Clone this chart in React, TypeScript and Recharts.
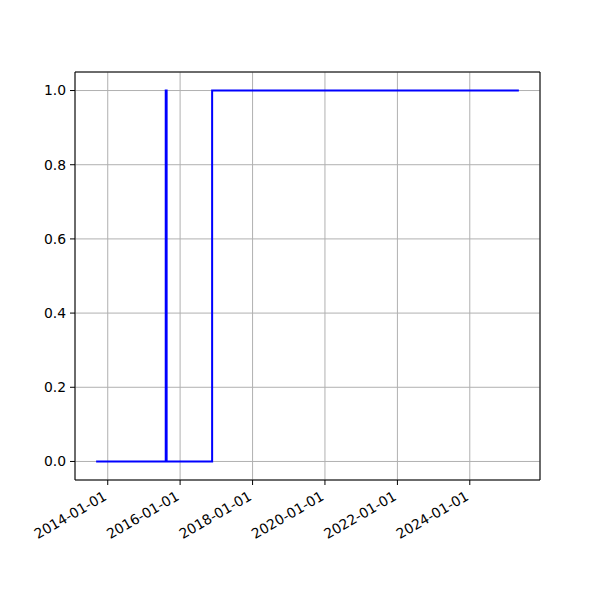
import React from "react";
import { LineChart, Line, XAxis, YAxis, CartesianGrid, ReferenceArea } from "recharts";

const dates = ["2013-09-06", "2015-08-09", "2015-08-18", "2016-11-19", "2025-05-10"];
const values = [0, 1, 0, 1, 1];
const xTickDates = ["2014-01-01", "2016-01-01", "2018-01-01", "2020-01-01", "2022-01-01", "2024-01-01"];
const yTicks = [0, 0.2, 0.4, 0.6, 0.8, 1.0];

const toMs = (s: string) => {
  const [y, m, d] = s.split("-").map(Number);
  return Date.UTC(y, m - 1, d);
};

const data = dates.map((d, i) => ({ t: toMs(d), v: values[i] }));
const tMin = Math.min(...data.map((d) => d.t));
const tMax = Math.max(...data.map((d) => d.t));
const pad = (tMax - tMin) * 0.05;
const xDomain: [number, number] = [tMin - pad, tMax + pad];
const yDomain: [number, number] = [-0.05, 1.05];
const xTicks = xTickDates.map(toMs);

const fmtDate = (ms: number) => {
  const d = new Date(ms);
  const mm = String(d.getUTCMonth() + 1).padStart(2, "0");
  const dd = String(d.getUTCDate()).padStart(2, "0");
  return `${d.getUTCFullYear()}-${mm}-${dd}`;
};

const FONT = "DejaVu Sans, sans-serif";

const XTick = (props: any) => {
  const { x, y, payload } = props;
  const px = x;
  const py = y + 12;
  return (
    <text
      x={px}
      y={py}
      transform={`rotate(-30, ${px}, ${py})`}
      textAnchor="end"
      fontFamily={FONT}
      fontSize={13.9}
      fill="#000"
    >
      {fmtDate(payload.value)}
    </text>
  );
};

export default function App() {
  return (
    <div style={{ position: "absolute", left: 0, top: 0, width: 600, height: 600, background: "#fff" }}>
      <LineChart
        width={600}
        height={600}
        data={data}
        margin={{ top: 72, right: 60, bottom: 0, left: 0 }}
      >
        <CartesianGrid stroke="#b0b0b0" strokeWidth={1} />
        <XAxis
          dataKey="t"
          type="number"
          domain={xDomain}
          ticks={xTicks}
          allowDataOverflow
          height={120}
          tickSize={5}
          tickLine={{ stroke: "#000" }}
          axisLine={false}
          tick={<XTick />}
          interval={0}
        />
        <YAxis
          type="number"
          domain={yDomain}
          ticks={yTicks}
          allowDataOverflow
          width={75}
          tickSize={5}
          tickMargin={4}
          tickLine={{ stroke: "#000" }}
          axisLine={false}
          tickFormatter={(v: number) => v.toFixed(1)}
          tick={{ fill: "#000", fontFamily: FONT, fontSize: 13.9 }}
          interval={0}
        />
        <ReferenceArea
          x1={xDomain[0]}
          x2={xDomain[1]}
          y1={yDomain[0]}
          y2={yDomain[1]}
          fill="none"
          stroke="#000"
          strokeWidth={1}
          ifOverflow="visible"
        />
        <Line
          type="stepAfter"
          dataKey="v"
          stroke="#0000ff"
          strokeWidth={2}
          dot={false}
          isAnimationActive={false}
        />
      </LineChart>
    </div>
  );
}
